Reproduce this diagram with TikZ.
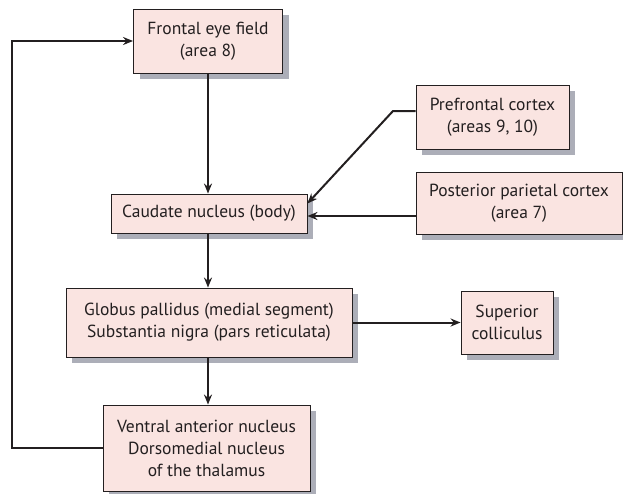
\documentclass[tikz,border=0pt]{standalone}
\usepackage{fontspec}
\setmainfont{PT Sans}
\usetikzlibrary{arrows.meta}
\definecolor{boxfill}{RGB}{250,228,225}
\definecolor{dropgrey}{RGB}{172,174,184}
\definecolor{ink}{RGB}{35,31,32}
\tikzset{
  area/.style={
    draw=ink,
    line width=0.9pt,
    fill=boxfill,
    preaction={fill=dropgrey, draw=none, transform canvas={xshift=6pt,yshift=-6pt}},
    align=center,
    inner sep=0pt,
    text=ink,
    font=\fontsize{17.5}{22}\selectfont
  },
  link/.style={
    draw=ink,
    line width=2pt,
    -{Stealth[length=10pt,width=8pt]}
  }
}
\begin{document}
\begin{tikzpicture}[x=1pt,y=-1pt]
  \useasboundingbox (0,0) rectangle (623,493);
  \node[area,minimum width=149pt,minimum height=64pt] (feye) at (208,41) {Frontal eye field\\(area 8)};
  \node[area,minimum width=153pt,minimum height=64pt] (prefr) at (492.5,117) {Prefrontal cortex\\(areas 9, 10)};
  \node[area,minimum width=206pt,minimum height=62pt] (postpar) at (519,203) {Posterior parietal cortex\\(area 7)};
  \node[area,minimum width=196pt,minimum height=39pt] (caud) at (209,213.5) {Caudate nucleus (body)};
  \node[area,minimum width=286pt,minimum height=69pt] (gp) at (209,322.5) {Globus pallidus (medial segment)\\Substantia nigra (pars reticulata)};
  \node[area,minimum width=92pt,minimum height=63pt] (sc) at (507,322.5) {Superior\\colliculus};
  \node[area,minimum width=207pt,minimum height=86pt] (thal) at (206.5,448) {Ventral anterior nucleus\\Dorsomedial nucleus\\of the thalamus};
  \coordinate (bend) at (393,111);
  \coordinate (loop) at (12,448);
  % main loop
  \draw[link] (feye.south) -- (feye.south |- caud.north);
  \draw[link] (caud.south -| feye.south) -- (feye.south |- gp.north);
  \draw[link] (gp.south -| feye.south) -- (feye.south |- thal.north);
  \draw[link] (thal.west) -- (loop) |- (feye.west);
  % cortical inputs
  \draw[link] ([yshift=6pt]prefr.west) -- (bend) -- ([yshift=10pt]caud.east);
  \draw[link] ([yshift=-13pt]postpar.west) -- ([yshift=-13pt]postpar.west -| caud.east);
  % output
  \draw[link] (gp.east) -- (sc.west);
\end{tikzpicture}
\end{document}
